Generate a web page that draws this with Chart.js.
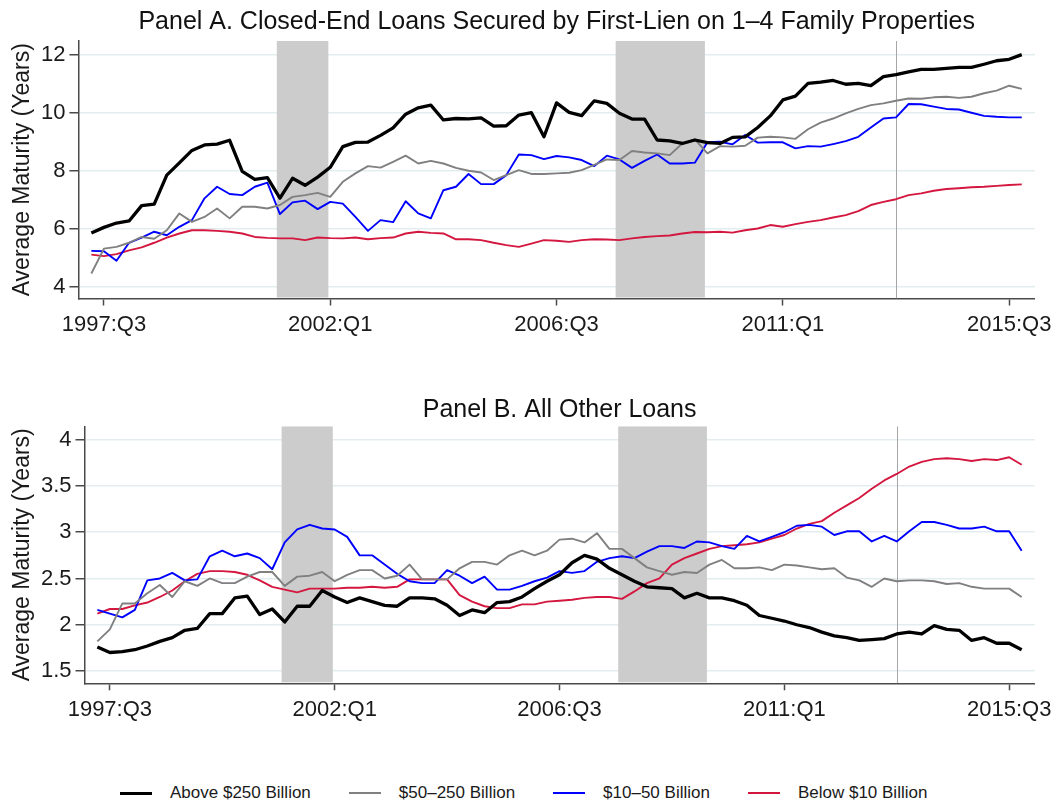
<!DOCTYPE html>
<html>
<head>
<meta charset="utf-8">
<script src="https://cdn.jsdelivr.net/npm/chart.js@4.4.0/dist/chart.umd.min.js"></script>
<style>
html, body { margin: 0; padding: 0; background: #ffffff; overflow: hidden; width: 1058px; height: 803px; }
#wrapA { position: absolute; left: 0; top: 0; width: 1058px; height: 345px; }
#wrapB { position: absolute; left: 0; top: 345px; width: 1058px; height: 400px; }
#legend { position: absolute; left: 120px; top: 781px; height: 24px; display: flex; align-items: center;
  font-family: 'Liberation Sans', Arial, Helvetica, sans-serif; font-size: 17px; color: #1a1a1a; white-space: nowrap; }
#legend .item { display: flex; align-items: center; margin-right: 38px; }
#legend .sw { display: inline-block; width: 32px; margin-right: 18px; }
</style>
</head>
<body>
<div id="wrapA"><canvas id="chartA"></canvas></div>
<div id="wrapB"><canvas id="chartB"></canvas></div>
<div id="legend"></div>
<script>
// ---------- categories (quarters) ----------
const quarters = [
  "1997:Q2","1997:Q3","1997:Q4",
  "1998:Q1","1998:Q2","1998:Q3","1998:Q4",
  "1999:Q1","1999:Q2","1999:Q3","1999:Q4",
  "2000:Q1","2000:Q2","2000:Q3","2000:Q4",
  "2001:Q1","2001:Q2","2001:Q3","2001:Q4",
  "2002:Q1","2002:Q2","2002:Q3","2002:Q4",
  "2003:Q1","2003:Q2","2003:Q3","2003:Q4",
  "2004:Q1","2004:Q2","2004:Q3","2004:Q4",
  "2005:Q1","2005:Q2","2005:Q3","2005:Q4",
  "2006:Q1","2006:Q2","2006:Q3","2006:Q4",
  "2007:Q1","2007:Q2","2007:Q3","2007:Q4",
  "2008:Q1","2008:Q2","2008:Q3","2008:Q4",
  "2009:Q1","2009:Q2","2009:Q3","2009:Q4",
  "2010:Q1","2010:Q2","2010:Q3","2010:Q4",
  "2011:Q1","2011:Q2","2011:Q3","2011:Q4",
  "2012:Q1","2012:Q2","2012:Q3","2012:Q4",
  "2013:Q1","2013:Q2","2013:Q3","2013:Q4",
  "2014:Q1","2014:Q2","2014:Q3","2014:Q4",
  "2015:Q1","2015:Q2","2015:Q3","2015:Q4"
];
const xTickLabels = ["1997:Q3", "2002:Q1", "2006:Q3", "2011:Q1", "2015:Q3"];
const seriesNames = ["Above $250 Billion", "$50\u2013250 Billion", "$10\u201350 Billion", "Below $10 Billion"];

// recession shading (in quarter-index units, 0 = 1997:Q2) and marker quarter
const recessions = [[14.75, 18.85], [41.7, 48.8]];
const markerQuarter = "2013:Q2";

// ---------- Panel A: closed-end first-lien 1-4 family ----------
const aboveA = [5.86,6.05,6.2,6.27,6.8,6.85,7.85,8.27,8.7,8.89,8.92,9.05,7.98,7.7,7.76,7.06,7.74,7.5,7.78,8.12,
  8.83,8.98,8.99,9.22,9.48,9.95,10.17,10.26,9.75,9.8,9.79,9.82,9.54,9.55,9.92,10.0,9.17,10.34,10.01,9.9,
  10.41,10.32,9.98,9.78,9.78,9.06,9.03,8.94,9.06,8.97,8.94,9.15,9.17,9.49,9.89,10.44,10.57,11.01,11.05,11.11,
  10.98,11.01,10.93,11.24,11.31,11.41,11.49,11.49,11.53,11.56,11.56,11.67,11.79,11.84,12.0];
const midA = [4.46,5.32,5.38,5.52,5.72,5.66,5.95,6.53,6.24,6.41,6.70,6.36,6.76,6.76,6.70,6.82,7.1,7.16,7.24,7.1,
  7.62,7.91,8.16,8.11,8.31,8.52,8.25,8.34,8.25,8.10,8.0,7.94,7.68,7.85,8.02,7.89,7.89,7.91,7.93,8.02,
  8.2,8.39,8.37,8.68,8.63,8.6,8.54,8.94,9.08,8.6,8.85,8.83,8.86,9.14,9.17,9.15,9.1,9.43,9.66,9.8,
  9.98,10.13,10.26,10.32,10.41,10.49,10.48,10.53,10.55,10.51,10.55,10.67,10.76,10.93,10.82];
const smallA = [5.24,5.23,4.90,5.52,5.70,5.90,5.78,6.07,6.30,7.05,7.45,7.2,7.16,7.45,7.59,6.51,6.91,6.97,6.68,6.93,
  6.87,6.41,5.93,6.30,6.23,6.95,6.53,6.36,7.33,7.45,7.89,7.54,7.54,7.85,8.56,8.54,8.40,8.51,8.46,8.37,
  8.16,8.52,8.39,8.10,8.34,8.56,8.25,8.25,8.28,8.98,9.0,8.91,9.23,8.97,8.98,8.98,8.77,8.85,8.83,8.92,
  9.02,9.17,9.49,9.8,9.84,10.3,10.29,10.21,10.13,10.11,10.0,9.89,9.86,9.84,9.84];
const smallestA = [5.11,5.06,5.13,5.26,5.36,5.52,5.70,5.84,5.95,5.95,5.93,5.90,5.84,5.72,5.69,5.67,5.67,5.61,5.70,5.68,
  5.67,5.70,5.64,5.68,5.70,5.84,5.90,5.86,5.84,5.64,5.64,5.61,5.52,5.44,5.38,5.49,5.61,5.59,5.55,5.61,
  5.64,5.63,5.61,5.67,5.72,5.75,5.77,5.84,5.89,5.88,5.9,5.87,5.95,6.01,6.13,6.07,6.16,6.24,6.30,6.39,
  6.47,6.61,6.82,6.93,7.02,7.16,7.22,7.31,7.37,7.40,7.43,7.45,7.48,7.51,7.53];
const yTicksA = [4, 6, 8, 10, 12];

// ---------- Panel B: all other loans ----------
const aboveB = [1.76,1.70,1.71,1.73,1.77,1.82,1.86,1.94,1.96,2.12,2.12,2.29,2.31,2.11,2.17,2.03,2.20,2.20,2.37,2.30,
  2.24,2.29,2.25,2.21,2.20,2.29,2.29,2.28,2.21,2.10,2.16,2.13,2.24,2.25,2.30,2.39,2.47,2.54,2.67,2.75,
  2.71,2.61,2.54,2.47,2.41,2.40,2.39,2.29,2.34,2.29,2.29,2.26,2.21,2.10,2.07,2.04,2.0,1.97,1.92,1.88,
  1.86,1.83,1.84,1.85,1.90,1.92,1.90,1.99,1.95,1.94,1.83,1.86,1.80,1.80,1.73];
const midB = [1.82,1.95,2.23,2.23,2.34,2.43,2.30,2.47,2.42,2.50,2.45,2.45,2.52,2.57,2.57,2.42,2.52,2.53,2.57,2.47,
  2.54,2.59,2.59,2.50,2.53,2.65,2.49,2.49,2.49,2.61,2.68,2.68,2.65,2.75,2.80,2.75,2.80,2.92,2.93,2.89,
  2.99,2.82,2.82,2.72,2.62,2.58,2.54,2.57,2.56,2.65,2.70,2.61,2.61,2.62,2.59,2.65,2.64,2.62,2.60,2.61,
  2.51,2.48,2.41,2.50,2.47,2.48,2.48,2.47,2.44,2.45,2.41,2.39,2.39,2.39,2.30];
const smallB = [2.16,2.12,2.08,2.16,2.48,2.50,2.56,2.48,2.49,2.74,2.80,2.74,2.77,2.72,2.60,2.89,3.03,3.08,3.04,3.03,
  2.95,2.75,2.75,2.65,2.55,2.47,2.45,2.45,2.59,2.53,2.45,2.52,2.38,2.38,2.42,2.47,2.51,2.58,2.56,2.58,
  2.68,2.72,2.74,2.72,2.79,2.85,2.85,2.83,2.90,2.89,2.85,2.82,2.96,2.90,2.95,3.0,3.07,3.08,3.06,2.97,
  3.01,3.01,2.90,2.96,2.90,3.01,3.11,3.11,3.08,3.04,3.04,3.06,3.01,3.01,2.80];
const smallestB = [2.12,2.17,2.17,2.21,2.24,2.30,2.37,2.47,2.55,2.58,2.58,2.57,2.54,2.48,2.41,2.38,2.35,2.39,2.39,2.39,
  2.40,2.40,2.41,2.40,2.41,2.49,2.49,2.49,2.49,2.32,2.25,2.20,2.18,2.18,2.22,2.22,2.25,2.26,2.27,2.29,
  2.30,2.30,2.28,2.36,2.45,2.50,2.65,2.72,2.77,2.82,2.85,2.86,2.87,2.89,2.93,2.97,3.04,3.09,3.12,3.21,
  3.29,3.37,3.47,3.56,3.63,3.71,3.76,3.79,3.80,3.79,3.77,3.79,3.78,3.81,3.73];
const yTicksB = [1.5, 2, 2.5, 3, 3.5, 4];

// ---------- styling ----------
const FONT = "'Liberation Sans', Arial, Helvetica, sans-serif";
const TEXT = "#1a1a1a";
const AXIS = "#4a4a4a";
const GRID = "#e3edef";
const lineStyles = [
  { color: "#000000", width: 3.3 },
  { color: "#808080", width: 1.9 },
  { color: "#0000ff", width: 1.9 },
  { color: "#d3173f", width: 1.9 }
];

Chart.defaults.font.family = FONT;
Chart.defaults.color = TEXT;

const shadePlugin = {
  id: "shade",
  beforeDatasetsDraw(chart) {
    const { ctx, chartArea: a, scales } = chart;
    const x = scales.x;
    ctx.save();
    ctx.beginPath();
    ctx.rect(a.left, a.top, a.right - a.left, a.bottom - a.top);
    ctx.clip();
    ctx.fillStyle = "#cccccc";
    recessions.forEach(([s, e]) => {
      const x0 = x.getPixelForValue(s), x1 = x.getPixelForValue(e);
      ctx.fillRect(x0, a.top, x1 - x0, a.bottom - a.top - 1);
    });
    const xv = Math.round(x.getPixelForValue(quarters.indexOf(markerQuarter))) + 0.5;
    ctx.strokeStyle = "#a6a6a6";
    ctx.lineWidth = 1;
    ctx.beginPath();
    ctx.moveTo(xv, a.top);
    ctx.lineTo(xv, a.bottom);
    ctx.stroke();
    ctx.restore();
  }
};

// HTML legend generated from the chart's own datasets
const htmlLegendPlugin = {
  id: "htmlLegend",
  afterUpdate(chart, args, opts) {
    if (!opts || !opts.containerID) return;
    const el = document.getElementById(opts.containerID);
    el.innerHTML = "";
    chart.data.datasets.forEach(ds => {
      const item = document.createElement("div");
      item.className = "item";
      const sw = document.createElement("span");
      sw.className = "sw";
      sw.style.height = Math.max(2, Math.round(ds.borderWidth)) + "px";
      sw.style.backgroundColor = ds.borderColor;
      const tx = document.createElement("span");
      tx.textContent = ds.label;
      item.appendChild(sw);
      item.appendChild(tx);
      el.appendChild(item);
    });
  }
};

function toXY(arr) { return arr.map((v, i) => ({ x: i, y: v })); }

function makePanel(canvasId, p) {
  const datasets = p.series.map((arr, k) => ({
    label: seriesNames[k],
    data: toXY(arr),
    borderColor: lineStyles[k].color,
    backgroundColor: lineStyles[k].color,
    borderWidth: lineStyles[k].width,
    pointRadius: 0,
    tension: 0,
    fill: false,
    borderJoinStyle: "round"
  }));
  return new Chart(document.getElementById(canvasId), {
    type: "line",
    data: { datasets },
    plugins: [shadePlugin, htmlLegendPlugin],
    options: {
      responsive: true,
      maintainAspectRatio: false,
      animation: false,
      devicePixelRatio: 1,
      layout: { padding: { left: 0, right: 21, top: 0, bottom: 0 } },
      plugins: {
        tooltip: { enabled: false },
        htmlLegend: { containerID: p.legendId || null },
        title: {
          display: true,
          text: p.title,
          fullSize: false,
          color: "#111111",
          font: { family: FONT, size: 25, weight: "normal" },
          padding: { top: p.titleTop, bottom: p.titleBottom }
        },
        legend: { display: false }
      },
      scales: {
        x: {
          type: "linear",
          min: -1.03,
          max: 75.05,
          afterBuildTicks: s => { s.ticks = xTickLabels.map(l => ({ value: quarters.indexOf(l) })); },
          afterFit: s => { s.height = p.xHeight; },
          grid: { drawOnChartArea: false, drawTicks: true, tickLength: 7, tickColor: AXIS, tickWidth: 1.5 },
          border: { display: true, color: AXIS, width: 1.5 },
          ticks: {
            autoSkip: false, maxRotation: 0, minRotation: 0, padding: 6,
            color: TEXT, font: { family: FONT, size: 22 },
            callback: v => quarters[v]
          }
        },
        y: {
          min: p.yMin,
          max: p.yMax,
          afterBuildTicks: s => { s.ticks = p.yTicks.map(v => ({ value: v })); },
          afterFit: s => { s.width = p.yWidth; },
          grid: { color: GRID, lineWidth: 1.5, drawTicks: true, tickLength: 9, tickColor: AXIS, tickWidth: 1.5 },
          border: { display: true, color: AXIS, width: 1.5 },
          ticks: { padding: 4, color: TEXT, font: { family: FONT, size: 22 }, callback: v => String(v) },
          title: {
            display: true,
            text: "Average Maturity (Years)",
            color: TEXT,
            font: { family: FONT, size: 23 },
            padding: { top: 9, bottom: 0 }
          }
        }
      }
    }
  });
}

makePanel("chartA", {
  title: "Panel A. Closed-End Loans Secured by First-Lien on 1\u20134 Family Properties",
  series: [aboveA, midA, smallA, smallestA],
  yMin: 3.6, yMax: 12.47, yTicks: yTicksA,
  yWidth: 78.4, xHeight: 46.5,
  titleTop: 7, titleBottom: 4,
  legendId: null
});

makePanel("chartB", {
  title: "Panel B. All Other Loans",
  series: [aboveB, midB, smallB, smallestB],
  yMin: 1.367, yMax: 4.145, yTicks: yTicksB,
  yWidth: 84.5, xHeight: 61.7,
  titleTop: 50, titleBottom: 1.3,
  legendId: "legend"
});
</script>
</body>
</html>
